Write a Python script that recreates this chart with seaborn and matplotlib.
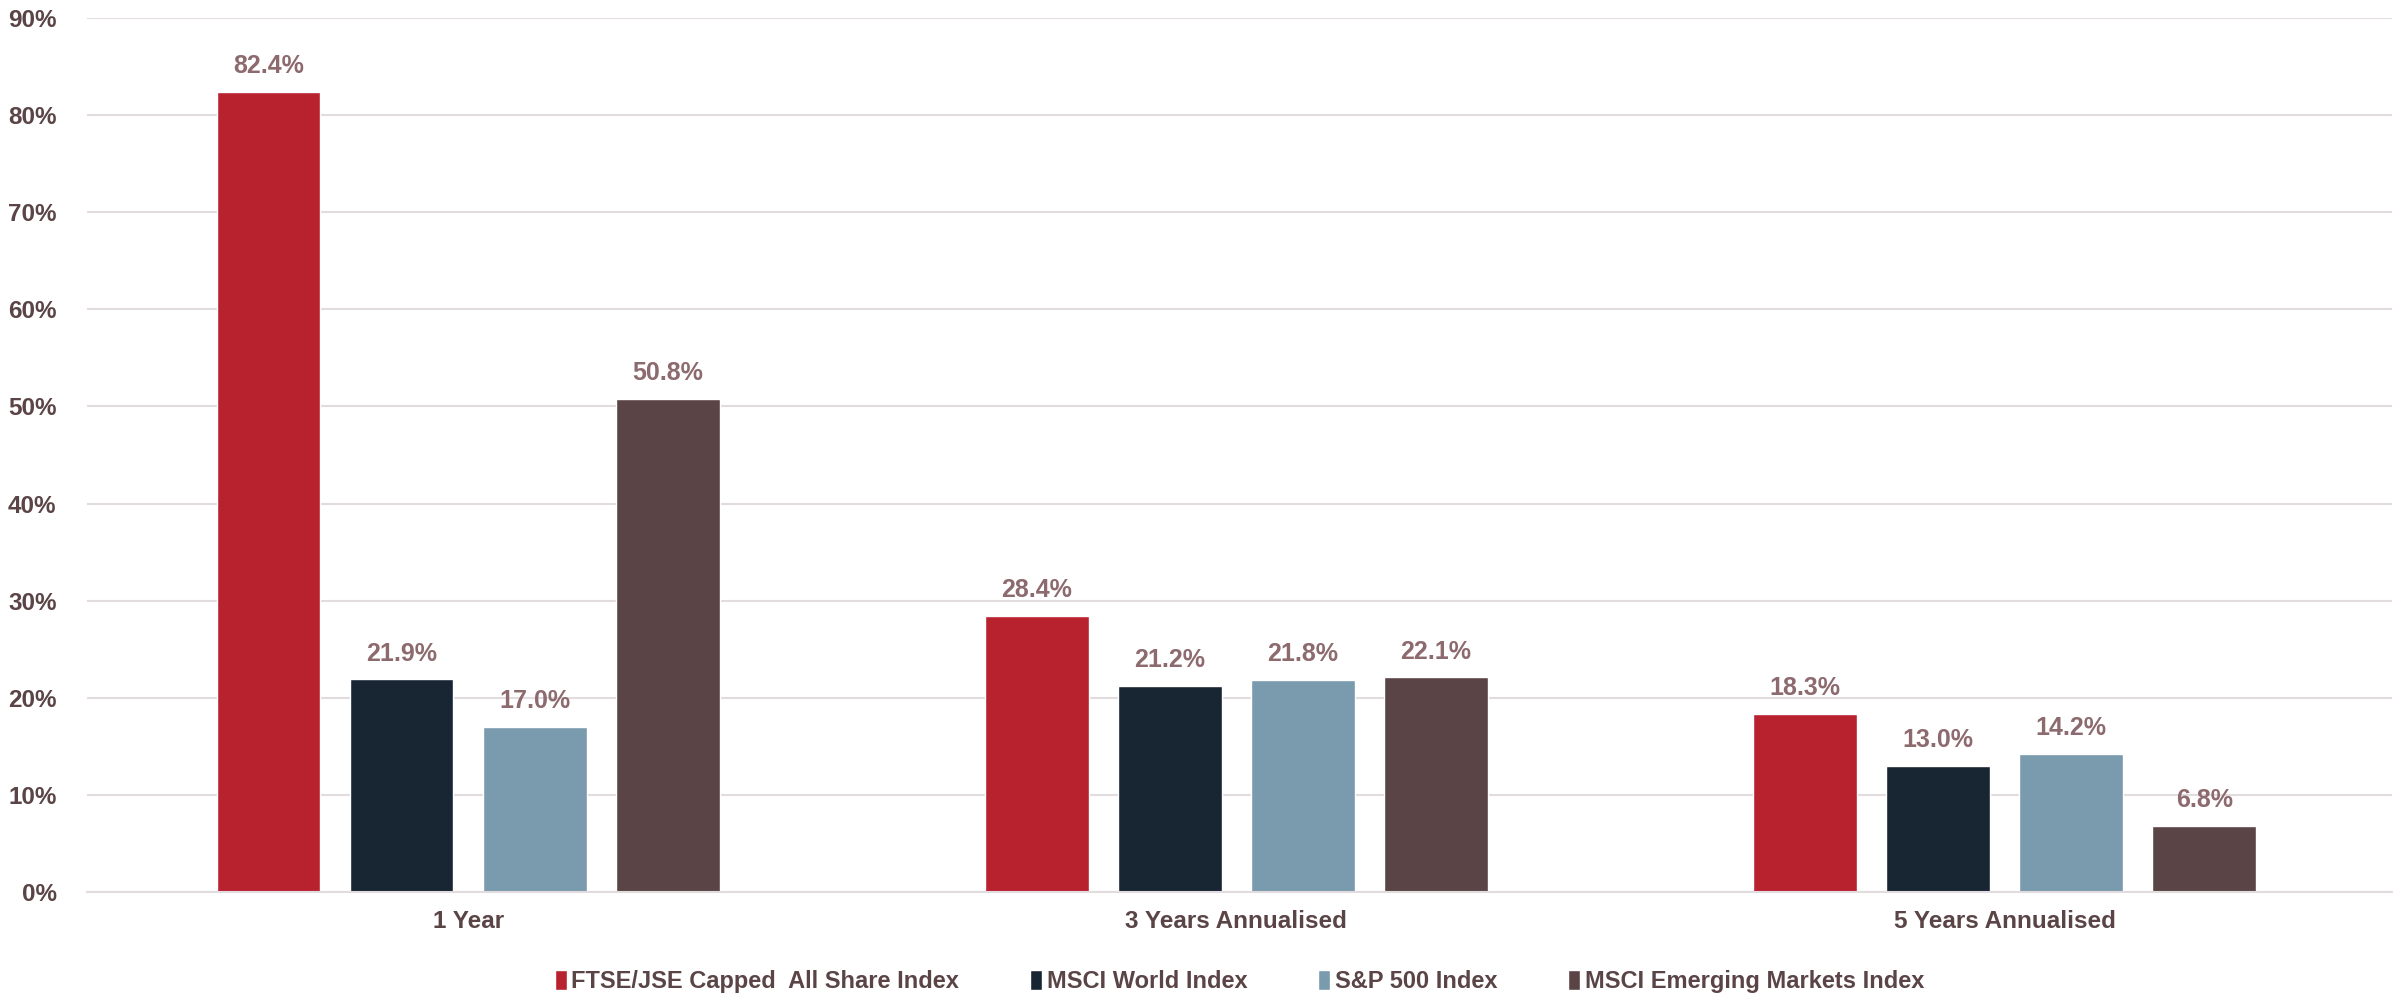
import pandas as pd
import matplotlib.pyplot as plt
import seaborn as sns

# Data
periods = ['1 Year', '3 Years Annualised', '5 Years Annualised']
indices = ['FTSE/JSE Capped  All Share Index', 'MSCI World Index',
           'S&P 500 Index', 'MSCI Emerging Markets Index']
ftse_jse = [82.4, 28.4, 18.3]
msci_world = [21.9, 21.2, 13.0]
sp500 = [17.0, 21.8, 14.2]
msci_em = [50.8, 22.1, 6.8]

colors = ['#B8222F', '#182532', '#7A9AAE', '#5A4446']

rows = []
for name, vals in zip(indices, [ftse_jse, msci_world, sp500, msci_em]):
    for p, v in zip(periods, vals):
        rows.append({'period': p, 'index': name, 'ret': v})
df = pd.DataFrame(rows)

sns.set_theme(style="white")
plt.rcParams['font.family'] = ['Liberation Sans', 'DejaVu Sans']
plt.rcParams['font.weight'] = 'bold'

text_col = '#5A4446'
fig = plt.figure(figsize=(23.99, 9.99), dpi=100)
ax = fig.add_axes([0.0363, 0.107, 0.9607, 0.875])

sns.barplot(data=df, x='period', y='ret', hue='index', order=periods, hue_order=indices,
            palette=colors, width=0.693, gap=0.22, saturation=1, ax=ax)

for c in ax.containers:
    ax.bar_label(c, fmt='%.1f%%', padding=10, fontsize=18, fontweight='bold', color='#8C6A6E')

ax.set_ylim(0, 90)
ax.set_xlim(-0.496, 2.504)
ax.set_yticks(range(0, 91, 10))
ax.set_yticklabels([f'{t}%' for t in range(0, 91, 10)])
ax.yaxis.grid(True, color='#E3DCDE', linewidth=1.5)
ax.set_axisbelow(True)
for s in ['top', 'right', 'left']:
    ax.spines[s].set_visible(False)
ax.spines['bottom'].set_color('#E3DCDE')
ax.spines['bottom'].set_linewidth(1.5)
ax.tick_params(axis='both', length=0, labelsize=17.5, labelcolor=text_col)
ax.tick_params(axis='x', pad=13)
ax.tick_params(axis='y', pad=22)
ax.set_xlabel('')
ax.set_ylabel('')

ax.legend(loc='lower center', bbox_to_anchor=(0.5, -0.14), ncol=4, frameon=False,
          fontsize=17, handlelength=0.5, handleheight=0.9, handletextpad=0.2,
          columnspacing=3.0, labelcolor=text_col)

plt.savefig('out.png', dpi=100)
